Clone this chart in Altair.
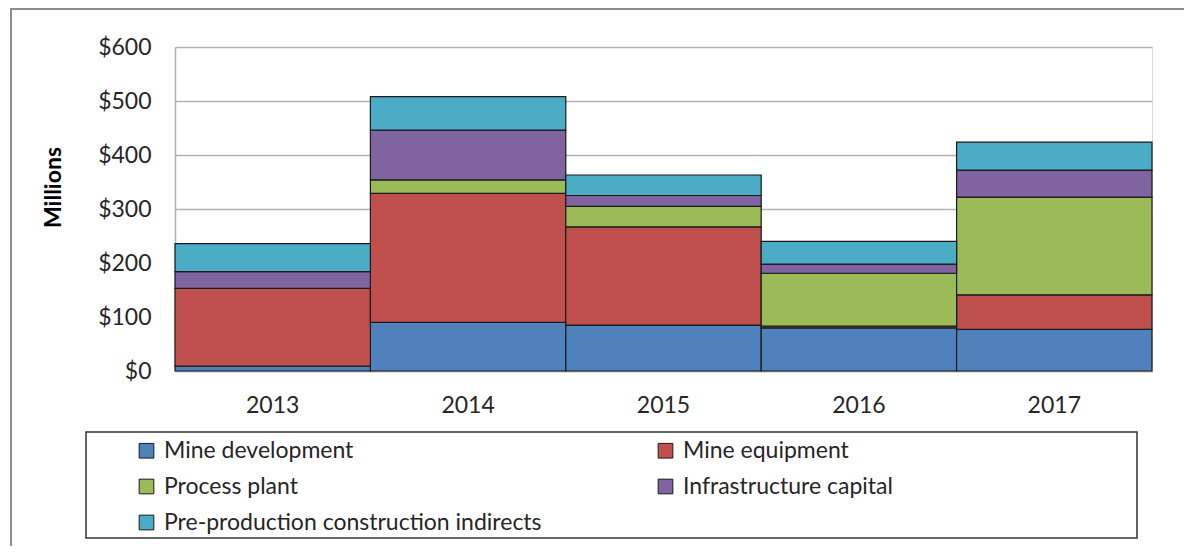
import altair as alt
import pandas as pd

years = ["2013", "2014", "2015", "2016", "2017"]
series = ["Mine development", "Mine equipment", "Process plant",
          "Infrastructure capital", "Pre-production construction indirects"]
mine_development = [9, 90, 85, 80, 77]
mine_equipment = [144, 239, 182, 3, 64]
process_plant = [0, 25, 38, 98, 181]
infrastructure_capital = [31, 92, 20, 17, 50]
preproduction_indirects = [52, 62, 38, 42, 52]
colors = ["#4F81BD", "#C0504D", "#9BBB59", "#8064A2", "#4BACC6"]

values = [mine_development, mine_equipment, process_plant,
          infrastructure_capital, preproduction_indirects]
rows = []
for si, (s, vals) in enumerate(zip(series, values)):
    for y, v in zip(years, vals):
        rows.append({"Year": y, "Series": s, "Value": v, "idx": si})
df = pd.DataFrame(rows)

FONT = "Lato"
TXT = "#262626"
FS = 23

bars = alt.Chart(df).mark_bar(stroke="#1a1a1a", strokeWidth=1.2).encode(
    x=alt.X("Year:N", sort=years,
            scale=alt.Scale(paddingInner=0, paddingOuter=0),
            axis=alt.Axis(title=None, labelAngle=0, ticks=False, labelPadding=23,
                          labelFontSize=FS, labelFont=FONT, labelColor=TXT,
                          domainColor="#b3b3b3", domainWidth=1.5)),
    y=alt.Y("Value:Q", stack="zero",
            scale=alt.Scale(domain=[0, 600], nice=False),
            axis=alt.Axis(title="Millions", values=[0, 100, 200, 300, 400, 500, 600],
                          format="$,.0f", ticks=False, labelPadding=24,
                          labelFontSize=FS, labelFont=FONT, labelColor=TXT,
                          titleFont=FONT, titleFontSize=FS, titleFontWeight="bold",
                          titleColor="#000000", titlePadding=32, titleY=140,
                          grid=True, gridColor="#b3b3b3", gridWidth=1.5,
                          domainColor="#b3b3b3", domainWidth=1.5)),
    color=alt.Color("Series:N", sort=series,
                    scale=alt.Scale(domain=series, range=colors),
                    legend=alt.Legend(title=None, orient="none", legendX=-40, legendY=392,
                                      columns=2, direction="horizontal",
                                      columnPadding=112, rowPadding=12,
                                      symbolType="square", symbolSize=215,
                                      symbolStrokeColor="#1a1a1a", symbolStrokeWidth=1,
                                      labelFont=FONT, labelFontSize=FS, labelColor=TXT,
                                      labelOffset=6, labelLimit=600, padding=0)),
    order=alt.Order("idx:Q", sort="ascending"),
)

legend_box = alt.Chart(pd.DataFrame({"k": [0]})).mark_rect(
    fill=None, stroke="#333333", strokeWidth=1.5).encode(
    x=alt.value(-89), x2=alt.value(962), y=alt.value(385), y2=alt.value(491))

frame = alt.Chart(pd.DataFrame({"k": [0]})).mark_rect(
    fill=None, stroke="#8c8c8c", strokeWidth=2).encode(
    x=alt.value(-164), x2=alt.value(1200), y=alt.value(-38), y2=alt.value(700))

chart = alt.layer(frame, bars, legend_box).properties(
    width=977, height=324,
    autosize=alt.AutoSizeParams(type="none"),
    padding={"left": 167, "top": 39, "right": 32, "bottom": 175},
).configure_view(stroke=None).configure(background="white")

chart.save("out.html", embed_options={"renderer": "svg", "actions": False})
